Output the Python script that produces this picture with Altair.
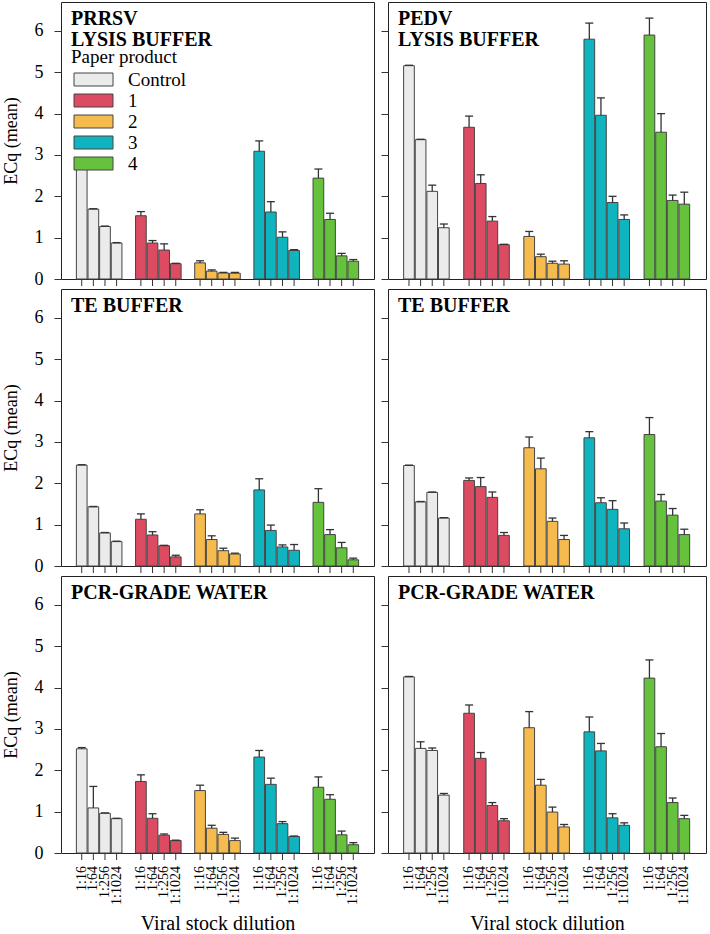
import altair as alt
import pandas as pd

SERIF = "Times New Roman, Liberation Serif, Times, DejaVu Serif, serif"

products = ["Control", "1", "2", "3", "4"]
dilutions = ["1:16", "1:64", "1:256", "1:1024"]
colors = ["#EBEBEB", "#DC4B62", "#F6BB4E", "#10B4BF", "#66C13D"]

# Mean ECq per paper product (rows) at each dilution (columns), with standard errors
prrsv_lysis_mean = [[2.65, 1.69, 1.27, 0.87], [1.53, 0.87, 0.70, 0.37], [0.39, 0.19, 0.145, 0.14],
                    [3.09, 1.62, 1.01, 0.69], [2.44, 1.44, 0.56, 0.43]]
prrsv_lysis_se = [[0.01, 0.01, 0.01, 0.01], [0.10, 0.06, 0.15, 0.01], [0.05, 0.03, 0.015, 0.02],
                  [0.25, 0.25, 0.13, 0.02], [0.22, 0.15, 0.06, 0.04]]

pedv_lysis_mean = [[5.16, 3.37, 2.12, 1.24], [3.67, 2.31, 1.40, 0.83], [1.03, 0.54, 0.38, 0.36],
                   [5.80, 3.96, 1.85, 1.44], [5.90, 3.55, 1.90, 1.81]]
pedv_lysis_se = [[0.01, 0.01, 0.15, 0.09], [0.27, 0.21, 0.11, 0.01], [0.12, 0.06, 0.05, 0.08],
                 [0.39, 0.42, 0.15, 0.11], [0.41, 0.45, 0.13, 0.29]]

prrsv_te_mean = [[2.44, 1.43, 0.80, 0.59], [1.13, 0.75, 0.49, 0.22], [1.26, 0.64, 0.37, 0.29],
                 [1.84, 0.86, 0.46, 0.38], [1.54, 0.76, 0.44, 0.15]]
prrsv_te_se = [[0.01, 0.01, 0.01, 0.01], [0.13, 0.08, 0.01, 0.04], [0.10, 0.09, 0.06, 0.02],
               [0.27, 0.13, 0.05, 0.14], [0.33, 0.12, 0.13, 0.04]]

pedv_te_mean = [[2.43, 1.55, 1.78, 1.16], [2.07, 1.92, 1.66, 0.74], [2.86, 2.35, 1.08, 0.64],
                [3.10, 1.53, 1.37, 0.90], [3.18, 1.57, 1.23, 0.76]]
pedv_te_se = [[0.01, 0.01, 0.01, 0.01], [0.06, 0.22, 0.13, 0.07], [0.26, 0.26, 0.08, 0.10],
              [0.15, 0.12, 0.21, 0.14], [0.41, 0.16, 0.16, 0.13]]

prrsv_water_mean = [[2.52, 1.09, 0.96, 0.83], [1.73, 0.84, 0.43, 0.30], [1.51, 0.60, 0.45, 0.30],
                    [2.32, 1.66, 0.71, 0.40], [1.59, 1.30, 0.44, 0.20]]
prrsv_water_se = [[0.03, 0.52, 0.01, 0.01], [0.16, 0.11, 0.03, 0.01], [0.13, 0.07, 0.05, 0.06],
                  [0.16, 0.15, 0.05, 0.01], [0.25, 0.11, 0.09, 0.05]]

pedv_water_mean = [[4.26, 2.53, 2.48, 1.40], [3.38, 2.29, 1.15, 0.78], [3.03, 1.64, 0.99, 0.63],
                   [2.93, 2.47, 0.85, 0.67], [4.23, 2.57, 1.22, 0.83]]
pedv_water_se = [[0.01, 0.16, 0.06, 0.04], [0.20, 0.14, 0.07, 0.05], [0.39, 0.14, 0.12, 0.06],
                 [0.36, 0.18, 0.10, 0.06], [0.44, 0.32, 0.11, 0.08]]

H = 277
LEFT_W = 313
RIGHT_W = 318


def make_frame(mean, se):
    rows = []
    for i, p in enumerate(products):
        for j, d in enumerate(dilutions):
            rows.append({"product": p, "dilution": d, "mean": mean[i][j], "se": se[i][j]})
    return pd.DataFrame(rows)


def panel(mean, se, title_lines, width, first_col, bottom, legend):
    df = make_frame(mean, se)
    base = alt.Chart(df).transform_calculate(upper="datum.mean + datum.se")

    xscale = alt.Scale(domain=products, paddingInner=0.23, paddingOuter=0.26)
    if bottom:
        xaxis = alt.Axis(labels=False, ticks=False, domain=False, title="Viral stock dilution",
                         titlePadding=60, titleFont=SERIF, titleFontSize=20,
                         titleFontWeight="normal", titleColor="black")
    else:
        xaxis = None
    x = alt.X("product:N", scale=xscale, sort=products, axis=xaxis)
    xo = alt.XOffset("dilution:N", scale=alt.Scale(domain=dilutions, paddingInner=0.08), sort=dilutions)

    yscale = alt.Scale(domain=[0, 6.7], nice=False, zero=True)
    ykw = dict(values=[0, 1, 2, 3, 4, 5, 6], domain=False, grid=False, tickSize=7, tickColor="#333",
               labelFont=SERIF, labelFontSize=18, labelColor="black", labelPadding=11)
    if first_col:
        ykw.update(title="ECq (mean)", titleFont=SERIF, titleFontSize=18, titleFontWeight="normal",
                   titleColor="black", titlePadding=14)
    else:
        ykw.update(labels=False, title="")
    y = alt.Y("mean:Q", scale=yscale, axis=alt.Axis(**ykw))

    color = alt.Color("product:N", scale=alt.Scale(domain=products, range=colors),
                      legend=legend)

    bars = base.mark_bar(stroke="#444", strokeWidth=1).encode(x=x, xOffset=xo, y=y, color=color)
    err = base.mark_rule(color="#333", strokeWidth=1.3).encode(
        x=x, xOffset=xo, y=alt.Y("mean:Q"), y2=alt.Y2("upper:Q"))
    caps = base.mark_point(shape="M-1,0H1", size=64, filled=False, color="#333",
                           strokeWidth=1.3, opacity=1).encode(x=x, xOffset=xo, y=alt.Y("upper:Q"))
    ticks = base.mark_rule(color="#333", strokeWidth=1).encode(
        x=x, xOffset=xo, y=alt.value(H), y2=alt.value(H + 7))
    label = alt.Chart(alt.Data(values=[{}])).mark_text(
        align="left", baseline="alphabetic", font=SERIF, fontWeight="bold", fontSize=20,
        lineHeight=21, text=title_lines, color="black").encode(x=alt.value(10), y=alt.value(23))

    layers = [bars, err, caps, ticks, label]
    if bottom:
        layers.append(base.mark_text(angle=270, align="right", baseline="middle", font=SERIF,
                                     fontSize=14, color="black").encode(
            x=x, xOffset=xo, y=alt.value(H + 13), text="dilution:N"))
    return alt.layer(*layers).properties(width=width, height=H)


# Wide, flat swatches: the path spans 6 units across and 2 down, drawn at 13 px per 2 units
legend = alt.Legend(title="Paper product", orient="none", legendX=10, legendY=46,
                    symbolType="M-3,-1H3V1H-3Z", symbolSize=169, symbolOffset=13,
                    symbolStrokeColor="#444", symbolStrokeWidth=1, symbolOpacity=1,
                    labelFont=SERIF, labelFontSize=19, labelColor="black", labelOffset=25,
                    titleFont=SERIF, titleFontSize=19, titleFontWeight="normal",
                    titleColor="black", titlePadding=3, rowPadding=1, padding=0)

panels = [
    panel(prrsv_lysis_mean, prrsv_lysis_se, ["PRRSV", "LYSIS BUFFER"], LEFT_W, True, False, legend),
    panel(pedv_lysis_mean, pedv_lysis_se, ["PEDV", "LYSIS BUFFER"], RIGHT_W, False, False, None),
    panel(prrsv_te_mean, prrsv_te_se, ["TE BUFFER"], LEFT_W, True, False, None),
    panel(pedv_te_mean, pedv_te_se, ["TE BUFFER"], RIGHT_W, False, False, None),
    panel(prrsv_water_mean, prrsv_water_se, ["PCR-GRADE WATER"], LEFT_W, True, True, None),
    panel(pedv_water_mean, pedv_water_se, ["PCR-GRADE WATER"], RIGHT_W, False, True, None),
]

chart = alt.concat(
    *panels, columns=2, spacing=alt.RowColnumber(row=10, column=14), bounds="flush", align="each"
).resolve_legend(color="independent").properties(
    padding={"left": 1, "top": 1, "right": 0, "bottom": 0}
).configure(background="white", font=SERIF).configure_view(stroke="#222", strokeWidth=1)

chart.save("out.html", embed_options={"renderer": "svg", "actions": False})
